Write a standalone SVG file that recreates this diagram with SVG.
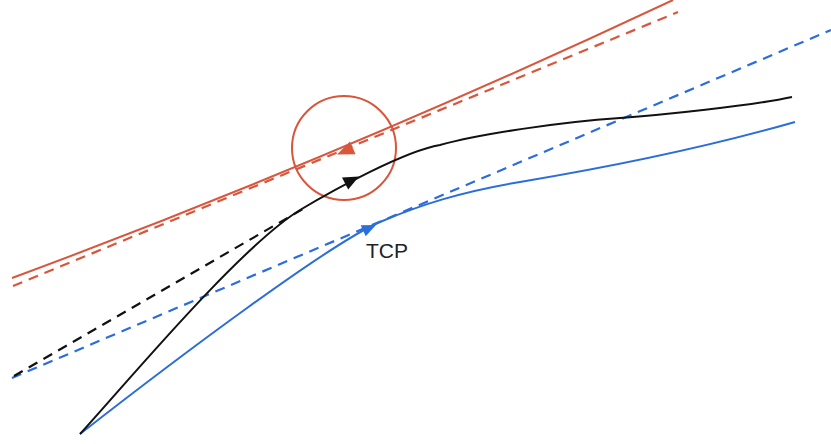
<svg xmlns="http://www.w3.org/2000/svg" width="831" height="444" viewBox="0 0 831 444">
<style>
.red{stroke:#d9553b;fill:none;stroke-width:2}
.blue{stroke:#2b6ddb;fill:none;stroke-width:2}
.blk{stroke:#111;fill:none;stroke-width:2}
.dash{stroke-dasharray:10 7;stroke-width:2.2}
.lbl{font-family:"Liberation Sans",Arial,sans-serif;font-size:21px;fill:#222}
</style>
<rect width="831" height="444" fill="#fff"/>
<g id="red-path">
<path class="red" d="M12,278 Q339,157 673,0"/>
<path class="red dash" d="M13,286 L678,12"/>
<polygon fill="#d9553b" points="337,154.5 355.5,154.3 350,141.4"/>
</g>
<g id="circle">
<circle class="red" cx="344" cy="148" r="52"/>
</g>
<g id="blue-path">
<path class="blue dash" d="M12,378 L831,30"/>
<path class="blue" d="M80,434 C180,356 330,243.5 380,222 C420,205 460,192 520,182 C580,172 690,152 795,122"/>
<polygon fill="#2b6ddb" points="376,225 365.7,236.2 360.7,225.2"/>
</g>
<g id="black-path">
<path class="blk dash" d="M14,376 L303,209"/>
<path class="blk" d="M80,434 C130,379 240,247 300,210 C335,189 405,151 440,145 C480,134 560,122 620,118 C660,115.3 750,106 792,97"/>
<polygon fill="#111" points="359,176.5 348.2,189.5 342,177.5"/>
</g>
<g id="label-tcp">
<text class="lbl" x="366" y="258">TCP</text>
</g>
</svg>
